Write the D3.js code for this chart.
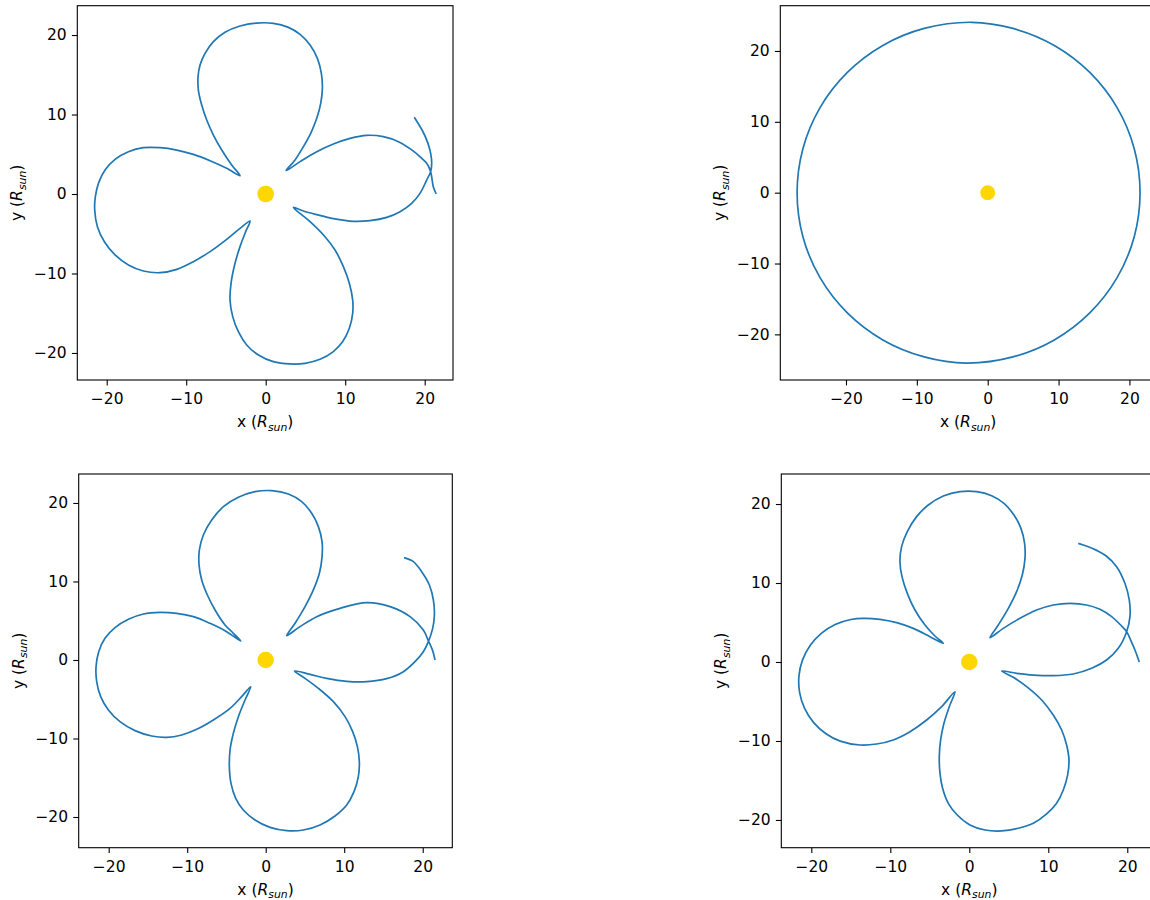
<!DOCTYPE html>
<html>
<head>
<meta charset="utf-8">
<script src="https://cdn.jsdelivr.net/npm/d3@7"></script>
<style>
  html, body { margin: 0; padding: 0; background: #ffffff; overflow: hidden; }
  svg { display: block; }
</style>
</head>
<body>
<svg id="chart" width="1150" height="900"></svg>
<script>
// ---------------- DATA (units of R_sun) ----------------
const tickValues = [-20, -10, 0, 10, 20];

// Panel 1 (top-left) trajectory
const panel1X = [21.45, 21.08, 20.75, 20.25, 19.5, 18.5, 16.69, 14.80, 12.70, 10.61, 8.51, 6.42, 4.32, 2.56,
  3.69, 4.74, 5.66, 6.42, 6.92, 7.13, 7.00, 6.50, 5.58, 4.32, 2.85, 0.96, -1.13, -3.23, -5.12, -6.58, -7.63, -8.26, -8.51, -8.47, -8.05, -7.42, -6.58, -5.53, -4.28, -3.23,
  -4.91, -7.00, -9.10, -11.19, -13.29, -15.39, -17.27, -18.95, -20.21, -21.01, -21.43, -21.51, -21.17, -20.29, -18.95, -17.27, -15.39, -13.29, -11.19, -9.10, -7.00, -4.91, -3.23, -1.97,
  -2.52, -3.23, -3.86, -4.36, -4.49, -4.15, -3.44, -2.39, -0.92, 0.96, 3.06, 4.95, 6.83, 8.51, 9.69, 10.52, 10.94, 10.94, 10.52, 9.77, 8.72, 7.46, 5.58, 3.48,
  4.74, 6.42, 8.51, 11.03, 13.12, 15.22, 16.90, 18.36, 19.41, 20.25, 20.75, 20.88, 20.75, 20.40, 19.80, 18.69];
const panel1Y = [0.00, 0.92, 2.81, 3.86, 4.60, 5.45, 6.58, 7.21, 7.38, 7.00, 6.29, 5.32, 4.07, 2.94,
  4.28, 5.95, 7.63, 9.52, 11.40, 13.29, 15.18, 17.06, 18.74, 20.08, 20.96, 21.47, 21.51, 21.13, 20.34, 19.16, 17.69, 16.23, 14.76, 13.08, 11.19, 9.31, 7.42, 5.53, 3.65, 2.31,
  3.23, 4.19, 4.99, 5.53, 5.83, 5.83, 5.32, 4.36, 3.02, 1.43, -0.34, -2.01, -4.11, -6.00, -7.67, -8.93, -9.69, -9.90, -9.48, -8.51, -7.25, -5.70, -4.32, -3.40,
  -4.74, -6.62, -8.72, -11.24, -13.33, -15.43, -17.32, -18.99, -20.25, -21.09, -21.38, -21.30, -20.80, -19.83, -18.57, -16.90, -15.01, -13.33, -11.24, -9.14, -7.04, -5.37, -3.48, -1.68,
  -2.14, -2.60, -3.10, -3.44, -3.35, -2.94, -2.22, -1.17, 0.08, 1.76, 2.81, 3.86, 5.12, 6.40, 7.80, 9.65];

// Panel 2 (top-right) trajectory: one near-circular orbit
const panel2X = [21.50, 20.68, 18.26, 14.41, 9.40, 3.56, -2.26, -8.96, -14.80, -19.81, -23.66, -26.08, -26.90,
  -26.08, -23.66, -19.81, -14.80, -8.96, -3.00, 3.56, 9.40, 14.41, 18.26, 20.68];
const panel2Y = [0.00, 6.21, 12.00, 16.97, 20.78, 23.18, 24.05, 23.18, 20.78, 16.97, 12.00, 6.21, 0.00,
  -6.21, -12.00, -16.97, -20.78, -23.18, -24.05, -23.18, -20.78, -16.97, -12.00, -6.21];

// Panel 3 (bottom-left) trajectory
const panel3X = [21.57, 21.27, 20.72, 20.08, 18.39, 15.84, 12.87, 9.47, 6.50, 4.37, 2.68,
  3.74, 5.01, 6.07, 6.84, 7.18, 7.18, 6.71, 5.86, 4.59, 2.89, 0.76, -1.36, -3.48, -5.39, -6.88, -7.94, -8.45, -8.49, -8.15, -7.43, -6.45, -5.18, -4.12, -3.18,
  -4.97, -7.09, -9.21, -11.34, -13.46, -15.58, -17.49, -19.19, -20.47, -21.27, -21.61, -21.53, -21.02, -20.04, -18.56, -16.65, -14.52, -12.61, -10.70, -8.79, -6.67, -4.54, -3.06, -1.91,
  -2.63, -3.48, -4.12, -4.54, -4.63, -4.42, -3.82, -2.85, -1.36, 0.55, 2.68, 4.80, 6.92, 8.83, 10.32, 11.25, 11.80, 11.93, 11.68, 11.08, 10.11, 8.62, 6.71, 5.01, 3.65,
  5.65, 7.77, 10.32, 12.87, 15.41, 17.54, 19.02, 20.08, 20.72, 21.27, 21.49, 21.36, 20.85, 19.87, 18.81, 17.62];
const panel3Y = [0.00, 1.19, 2.45, 3.82, 5.52, 6.79, 7.30, 6.58, 5.52, 4.25, 3.10,
  4.67, 6.79, 8.92, 11.04, 13.16, 15.07, 16.99, 18.68, 20.17, 21.15, 21.57, 21.44, 20.72, 19.53, 17.83, 15.92, 14.01, 12.10, 10.19, 8.28, 6.37, 4.46, 3.40, 2.42,
  3.61, 4.67, 5.52, 5.94, 6.07, 5.86, 5.18, 4.12, 2.76, 1.06, -0.85, -2.76, -4.67, -6.37, -7.86, -9.00, -9.68, -9.85, -9.55, -8.83, -7.64, -6.16, -4.67, -3.40,
  -5.10, -7.22, -9.34, -11.46, -13.59, -15.71, -17.62, -19.11, -20.38, -21.32, -21.74, -21.66, -21.02, -19.87, -18.47, -16.77, -14.86, -12.95, -11.04, -9.13, -7.22, -5.31, -3.61, -2.34, -1.40,
  -1.83, -2.34, -2.72, -2.76, -2.38, -1.49, -0.21, 1.06, 2.34, 4.03, 5.73, 7.64, 9.55, 11.25, 12.53, 13.04];

// Panel 4 (bottom-right) trajectory
const panel4X = [21.52, 20.97, 20.42, 19.92, 19.16, 18.02, 16.54, 14.85, 12.74, 10.63, 8.52, 6.41, 4.30, 2.62,
  3.67, 4.94, 5.99, 6.71, 7.05, 7.00, 6.54, 5.65, 4.39, 2.83, 0.93, -1.18, -3.29, -5.19, -6.67, -7.85, -8.57, -8.78, -8.52, -7.85, -6.88, -5.61, -4.35, -3.29,
  -4.98, -7.09, -9.20, -11.31, -13.42, -15.00, -16.98, -18.74, -20.15, -21.12, -21.57, -21.48, -20.85, -19.73, -18.19, -16.34, -13.84, -11.73, -9.62, -7.51, -5.40, -3.50, -1.81,
  -2.53, -3.21, -3.63, -3.80, -3.71, -3.38, -2.66, -1.52, 0.08, 1.98, 4.09, 6.20, 8.10, 9.79, 11.05, 11.90, 12.45, 12.62, 12.32, 11.69, 10.63, 9.16, 7.26, 5.57, 4.09,
  5.99, 8.10, 10.63, 13.16, 15.49, 17.38, 18.86, 19.92, 20.34, 20.25, 19.70, 18.65, 17.30, 16.20, 14.90, 13.80];
const panel4Y = [0.00, 1.52, 2.78, 3.84, 4.68, 5.74, 6.67, 7.22, 7.43, 7.22, 6.58, 5.53, 4.26, 3.08,
  4.68, 6.79, 8.90, 11.01, 13.12, 15.02, 16.92, 18.61, 20.08, 21.05, 21.56, 21.56, 21.01, 19.87, 18.40, 16.50, 14.60, 12.70, 10.80, 8.69, 6.58, 4.68, 3.29, 2.36,
  3.21, 4.26, 4.98, 5.40, 5.53, 5.38, 4.75, 3.63, 2.09, 0.24, -1.80, -3.89, -5.88, -7.64, -9.05, -10.02, -10.51, -10.38, -9.87, -8.82, -7.34, -5.65, -3.76,
  -5.65, -7.76, -9.87, -11.98, -14.09, -15.99, -17.89, -19.37, -20.63, -21.27, -21.39, -21.05, -20.42, -19.24, -17.89, -16.20, -14.30, -12.41, -10.51, -8.61, -6.71, -4.81, -3.12, -1.94, -1.14,
  -1.43, -1.65, -1.73, -1.52, -0.80, 0.25, 1.73, 3.84, 5.74, 7.85, 9.96, 12.07, 13.45, 14.10, 14.65, 15.02];

// Sun at the origin, radius in R_sun
const sunX = [0, 0, 0, 0];
const sunY = [0, 0, 0, 0];
const sunRadius = 1.05;

// ---------------- LAYOUT ----------------
const panels = [
  { xs: panel1X, ys: panel1Y, closed: false, left: 77.3, top: 5.7, right: 453.0, bottom: 380.0, xd: [-23.70, 23.56], yd: [-23.40, 23.69] },
  { xs: panel2X, ys: panel2Y, closed: true,  left: 780.3, top: 5.7, right: 1156.0, bottom: 380.0, xd: [-29.27, 23.75], yd: [-26.44, 26.39] },
  { xs: panel3X, ys: panel3Y, closed: false, left: 78.7, top: 474.0, right: 452.3, bottom: 847.7, xd: [-23.82, 23.77], yd: [-23.91, 23.69] },
  { xs: panel4X, ys: panel4Y, closed: false, left: 781.3, top: 474.0, right: 1157.3, bottom: 847.7, xd: [-23.80, 23.80], yd: [-23.51, 23.80] }
];

const FONT = "'DejaVu Sans', sans-serif";
const FS = 15.5;
const svg = d3.select("#chart");
svg.append("rect").attr("width", 1150).attr("height", 900).attr("fill", "#ffffff");

panels.forEach((p, i) => {
  const x = d3.scaleLinear().domain(p.xd).range([p.left, p.right]);
  const y = d3.scaleLinear().domain(p.yd).range([p.bottom, p.top]);
  const g = svg.append("g");

  const clipId = "clip" + i;
  g.append("clipPath").attr("id", clipId)
    .append("rect").attr("x", p.left).attr("y", p.top)
    .attr("width", p.right - p.left).attr("height", p.bottom - p.top);

  const plot = g.append("g").attr("clip-path", `url(#${clipId})`);
  const pts = p.xs.map((v, k) => [v, p.ys[k]]);
  const line = d3.line()
    .x(d => x(d[0])).y(d => y(d[1]))
    .curve(p.closed ? d3.curveCatmullRomClosed.alpha(0.5) : d3.curveCatmullRom.alpha(0.5));
  plot.append("path").datum(pts)
    .attr("d", line)
    .attr("fill", "none")
    .attr("stroke", "#1f77b4")
    .attr("stroke-width", 1.7)
    .attr("stroke-linejoin", "round")
    .attr("stroke-linecap", "butt");

  plot.append("circle")
    .attr("cx", x(sunX[i])).attr("cy", y(sunY[i]))
    .attr("r", x(sunRadius) - x(0))
    .attr("fill", "#FFD700");

  // axes
  const xAxis = d3.axisBottom(x).tickValues(tickValues).tickSize(5.4).tickPadding(7.5).tickSizeOuter(0);
  const yAxis = d3.axisLeft(y).tickValues(tickValues).tickSize(5.4).tickPadding(5.2).tickSizeOuter(0);
  const gx = g.append("g").attr("transform", `translate(0,${p.bottom})`).call(xAxis);
  const gy = g.append("g").attr("transform", `translate(${p.left},0)`).call(yAxis);
  [gx, gy].forEach(ax => {
    ax.select(".domain").remove();
    ax.attr("font-family", FONT).attr("font-size", FS);
    ax.selectAll(".tick line").attr("stroke", "#000").attr("stroke-width", 1.1);
    ax.selectAll(".tick text").attr("fill", "#000");
  });

  // frame
  g.append("rect")
    .attr("x", p.left).attr("y", p.top)
    .attr("width", p.right - p.left).attr("height", p.bottom - p.top)
    .attr("fill", "none").attr("stroke", "#000").attr("stroke-width", 1.1);

  // axis labels
  const xl = g.append("text")
    .attr("x", (p.left + p.right) / 2)
    .attr("y", p.bottom + 47)
    .attr("text-anchor", "middle")
    .attr("font-family", FONT).attr("font-size", FS).attr("fill", "#000");
  xl.append("tspan").text("x (");
  xl.append("tspan").attr("font-style", "italic").text("R");
  xl.append("tspan").attr("font-style", "italic").attr("font-size", FS * 0.7).attr("dy", 3.5).text("sun");
  xl.append("tspan").attr("dy", -3.5).text(")");

  const ymid = (p.top + p.bottom) / 2;
  const yl = g.append("text")
    .attr("transform", `translate(${p.left - 55},${ymid}) rotate(-90)`)
    .attr("text-anchor", "middle")
    .attr("font-family", FONT).attr("font-size", FS).attr("fill", "#000");
  yl.append("tspan").text("y (");
  yl.append("tspan").attr("font-style", "italic").text("R");
  yl.append("tspan").attr("font-style", "italic").attr("font-size", FS * 0.7).attr("dy", 3.5).text("sun");
  yl.append("tspan").attr("dy", -3.5).text(")");
});
</script>
</body>
</html>
